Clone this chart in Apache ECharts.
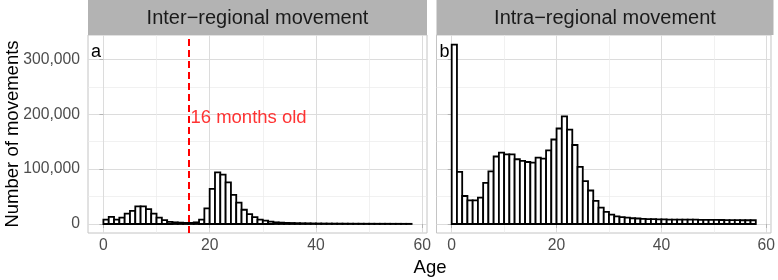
<!DOCTYPE html>
<html>
<head>
<meta charset="utf-8">
<script src="https://cdn.jsdelivr.net/npm/echarts@6/dist/echarts.min.js"></script>
<style>
html,body{margin:0;padding:0;background:#fff;}
#chart{width:778px;height:280px;}
</style>
</head>
<body>
<div id="chart"></div>
<script>
// ---- data ----
const binStart = [0,1,2,3,4,5,6,7,8,9,10,11,12,13,14,15,16,17,18,19,20,21,22,23,24,25,26,27,28,29,
  30,31,32,33,34,35,36,37,38,39,40,41,42,43,44,45,46,47,48,49,50,51,52,53,54,55,56,57];
const interRegional = [8000,13000,8000,11500,19000,24000,32000,32000,27000,19000,
  11500,7000,4000,3000,2500,2000,2000,3000,8000,28500,
  64000,94000,90000,76000,53000,39000,26000,18000,12700,8000,
  6000,4200,3000,2500,2000,1800,1500,1300,1200,1000,
  900,800,750,700,650,600,550,500,500,450,
  450,400,400,400,350,350,300,300];
const intraRegional = [327000,95000,51000,43000,43000,48000,75000,96000,123000,130000,
  127000,127000,118000,115000,113000,112000,121000,119000,134000,154000,
  174000,196000,172000,144000,104000,78000,61000,42000,30000,22000,
  17000,14000,12500,11500,10500,10000,9500,9000,9000,8500,
  8500,8000,8000,8000,8000,7800,7800,7600,7600,7500,
  7500,7300,7200,7000,7000,6800,6800,6800];
const panelTitles = ['Inter\u2212regional movement', 'Intra\u2212regional movement'];
const panelTags = ['a', 'b'];
const xTicks = [0, 20, 40, 60];
const xMinor = [10, 30, 50];
const yTicks = [0, 100000, 200000, 300000];
const yMinor = [50000, 150000, 250000];
const cutoffAge = [16];
const cutoffLabel = '16 months old';
const cutoffLabelY = [193000];
const xLabel = 'Age';
const yLabel = 'Number of movements';

// ---- layout ----
const FONT = '"Liberation Sans", Arial, sans-serif';
const grids = [
  {left: 88, top: 35, width: 339, height: 198},
  {left: 436.5, top: 35, width: 337, height: 198}
];
const X_MIN = -2.9, X_MAX = 60.9, Y_MIN = -16400, Y_MAX = 344400;

const chart = echarts.init(document.getElementById('chart'), null, {renderer: 'canvas'});

function fmt(v){ return Math.round(v).toLocaleString('en-US'); }

const tickLabelStyle = {color: '#4d4d4d', fontSize: 15.7, fontFamily: 'Liberation Sans'};

const xAxes = [], yAxes = [];
grids.forEach((g, i) => {
  xAxes.push({
    gridIndex: i, type: 'value', min: X_MIN, max: X_MAX,
    axisLine: {show: false},
    axisTick: {show: true, customValues: xTicks, length: 4, lineStyle: {color: '#b3b3b3', width: 1}},
    axisLabel: Object.assign({show: true, customValues: xTicks, margin: 5}, tickLabelStyle),
    splitLine: {show: true, lineStyle: {color: '#dcdcdc', width: 1}}
  });
  xAxes.push({
    gridIndex: i, type: 'value', min: X_MIN, max: X_MAX, position: 'bottom',
    axisLine: {show: false},
    axisTick: {show: false, customValues: xMinor},
    axisLabel: {show: false},
    splitLine: {show: true, lineStyle: {color: '#ebebeb', width: 0.7}}
  });
  yAxes.push({
    gridIndex: i, type: 'value', min: Y_MIN, max: Y_MAX,
    axisLine: {show: false},
    axisTick: {show: true, customValues: yTicks, length: 4, lineStyle: {color: '#b3b3b3', width: 1}},
    axisLabel: Object.assign({show: i === 0, customValues: yTicks, margin: 8, formatter: fmt}, tickLabelStyle),
    splitLine: {show: true, lineStyle: {color: '#dcdcdc', width: 1}}
  });
  yAxes.push({
    gridIndex: i, type: 'value', min: Y_MIN, max: Y_MAX, position: 'left',
    axisLine: {show: false},
    axisTick: {show: false, customValues: yMinor},
    axisLabel: {show: false},
    splitLine: {show: true, lineStyle: {color: '#ebebeb', width: 0.7}}
  });
});

function barRender(params, api){
  const x0 = api.value(0), v = api.value(1);
  const p0 = api.coord([x0, 0]);
  const p1 = api.coord([x0 + 1, v]);
  return {
    type: 'rect',
    shape: {x: p0[0], y: p1[1], width: p1[0] - p0[0], height: p0[1] - p1[1]},
    style: {fill: '#ffffff', stroke: '#000000', lineWidth: 1.8}
  };
}

const interData = binStart.map((b, k) => [b, interRegional[k]]);
const intraData = binStart.map((b, k) => [b, intraRegional[k]]);

const graphics = [];
grids.forEach((g, i) => {
  graphics.push({type: 'rect', left: g.left, top: 0, shape: {width: g.width, height: 35},
    style: {fill: '#b3b3b3'}, silent: true});
  graphics.push({type: 'text', x: g.left + g.width / 2, y: 18,
    style: {text: panelTitles[i], fill: '#1a1a1a', font: '20px ' + FONT, textAlign: 'center', textVerticalAlign: 'middle'}});
  graphics.push({type: 'text', x: g.left + 3, y: 52, z: 100,
    style: {text: panelTags[i], fill: '#000000', font: '18px ' + FONT, textAlign: 'left', textVerticalAlign: 'middle'}});
});
graphics.push({type: 'text', x: 430, y: 268,
  style: {text: xLabel, fill: '#000000', font: '18.5px ' + FONT, textAlign: 'center', textVerticalAlign: 'middle'}});
graphics.push({type: 'text', x: 13, y: 134, rotation: Math.PI / 2,
  style: {text: yLabel, fill: '#000000', font: '18.5px ' + FONT, textAlign: 'center', textVerticalAlign: 'middle'}});

chart.setOption({
  animation: false,
  backgroundColor: '#ffffff',
  textStyle: {fontFamily: 'Liberation Sans'},
  grid: grids.map(g => Object.assign({show: true, borderColor: '#c4c4c4', borderWidth: 1, backgroundColor: '#ffffff', containLabel: false}, g)),
  xAxis: xAxes,
  yAxis: yAxes,
  graphic: graphics,
  series: [
    {
      type: 'custom', xAxisIndex: 0, yAxisIndex: 0, renderItem: barRender, data: interData, z: 2,
      markLine: {
        silent: true, symbol: ['none', 'none'], label: {show: false},
        lineStyle: {color: '#ff0000', type: [7, 4], width: 2},
        data: cutoffAge.map(a => ({xAxis: a}))
      }
    },
    {
      type: 'scatter', xAxisIndex: 0, yAxisIndex: 0, symbolSize: 0, z: 5,
      data: cutoffAge.map((a, k) => [a, cutoffLabelY[k]]),
      label: {show: true, position: 'right', distance: 2, formatter: cutoffLabel, color: '#ff0000', fontSize: 18.5, fontFamily: 'Liberation Sans'}
    },
    {
      type: 'custom', xAxisIndex: 2, yAxisIndex: 2, renderItem: barRender, data: intraData, z: 2
    }
  ]
});
</script>
</body>
</html>
